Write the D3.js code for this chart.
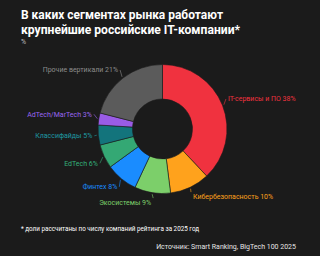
<!DOCTYPE html>
<html><head><meta charset="utf-8">
<script src="https://cdn.jsdelivr.net/npm/d3@7"></script>
<style>
html,body{margin:0;padding:0;background:#1b1b1b;}
svg{display:block;font-family:Roboto,"Noto Sans",sans-serif;}
</style></head><body>
<svg id="c" width="320" height="256"></svg>
<script>
const categories = ["IT-сервисы и ПО","Кибербезопасность","Экосистемы","Финтех","EdTech","Классифайды","AdTech/MarTech","Прочие вертикали"];
const values = [38,10,9,8,6,5,3,21];
const colors = ["#f0323f","#ffa21c","#7ccf6a","#1a8cff","#34a874","#13747c","#9a5ce6","#5b5b5b"];
const labelColors = ["#f0323f","#ffa21c","#7ccf6a","#1a8cff","#34b07a","#1f9aa3","#9a66f0","#8c8c8c"];
const title = ["В каких сегментах рынка работают","крупнейшие российские IT-компании*"];
const unit = "%";
const footnote = "* доли рассчитаны по числу компаний рейтинга за 2025 год";
const source = "Источник: Smart Ranking, BigTech 100 2025";

const svg = d3.select("#c");
svg.append("rect").attr("width",320).attr("height",256).attr("fill","#1b1b1b");

const titleWidths=[202,219];
title.forEach((t,i)=>{
  const el = svg.append("text").attr("x",21).attr("y",19+i*15).attr("fill","#ffffff")
    .attr("font-size",13.5).attr("font-weight",700).text(t);
  const w = el.node().getComputedTextLength();
  if (Math.abs(w-titleWidths[i])>1) el.attr("textLength",titleWidths[i]).attr("lengthAdjust","spacingAndGlyphs");
});
svg.append("text").attr("x",21).attr("y",44).attr("fill","#bdbdbd")
  .attr("font-size",7).text(unit);

const cx=162.5, cy=129, R=64.5, r0=30;
const g = svg.append("g").attr("transform",`translate(${cx},${cy})`);
const pie = d3.pie().sort(null).value(d=>d)(values);
const arc = d3.arc().innerRadius(r0).outerRadius(R);
g.selectAll("path.s").data(pie).join("path").attr("class","s")
  .attr("d",arc).attr("fill",(d,i)=>colors[i])
  .attr("stroke","#1b1b1b").attr("stroke-width",0.6);

// small layout nudges for label placement (px)
const nudge=[[-3,-3.3],[-1.4,2],[1,2],[2,2],[2,3.4],[3,0],[2,-3.4],[1,-1.7]];
const pt = (a,rad)=>[Math.sin(a)*rad, -Math.cos(a)*rad];
pie.forEach((d,i)=>{
  const a=(d.startAngle+d.endAngle)/2;
  const right = Math.sin(a)>0.05;
  const p1=pt(a,R+1.5), p3=pt(a,R+8);
  const tx=p3[0]+(right?1:-1)+nudge[i][0], ty=p3[1]+nudge[i][1];
  const lx = tx+(right?-2:2);
  let ly = ty;
  if (Math.abs(Math.cos(a))>0.85) ly = ty + (Math.cos(a)<0?-4.5:4.5);
  g.append("line").attr("x1",p1[0]).attr("y1",p1[1]).attr("x2",lx).attr("y2",ly)
    .attr("stroke",labelColors[i]).attr("stroke-width",0.6);
  g.append("text").attr("x",tx).attr("y",ty)
    .attr("dy","0.35em")
    .attr("text-anchor",right?"start":"end")
    .attr("fill",labelColors[i]).attr("font-size",7)
    .text(categories[i]+" "+values[i]+"%");
});

svg.append("text").attr("x",21).attr("y",230.5).attr("fill","#ffffff")
  .attr("font-size",6.3).text(footnote);
svg.append("text").attr("x",296).attr("y",248.5).attr("text-anchor","end").attr("fill","#e6e6e6")
  .attr("font-size",7).text(source);
</script></body></html>
